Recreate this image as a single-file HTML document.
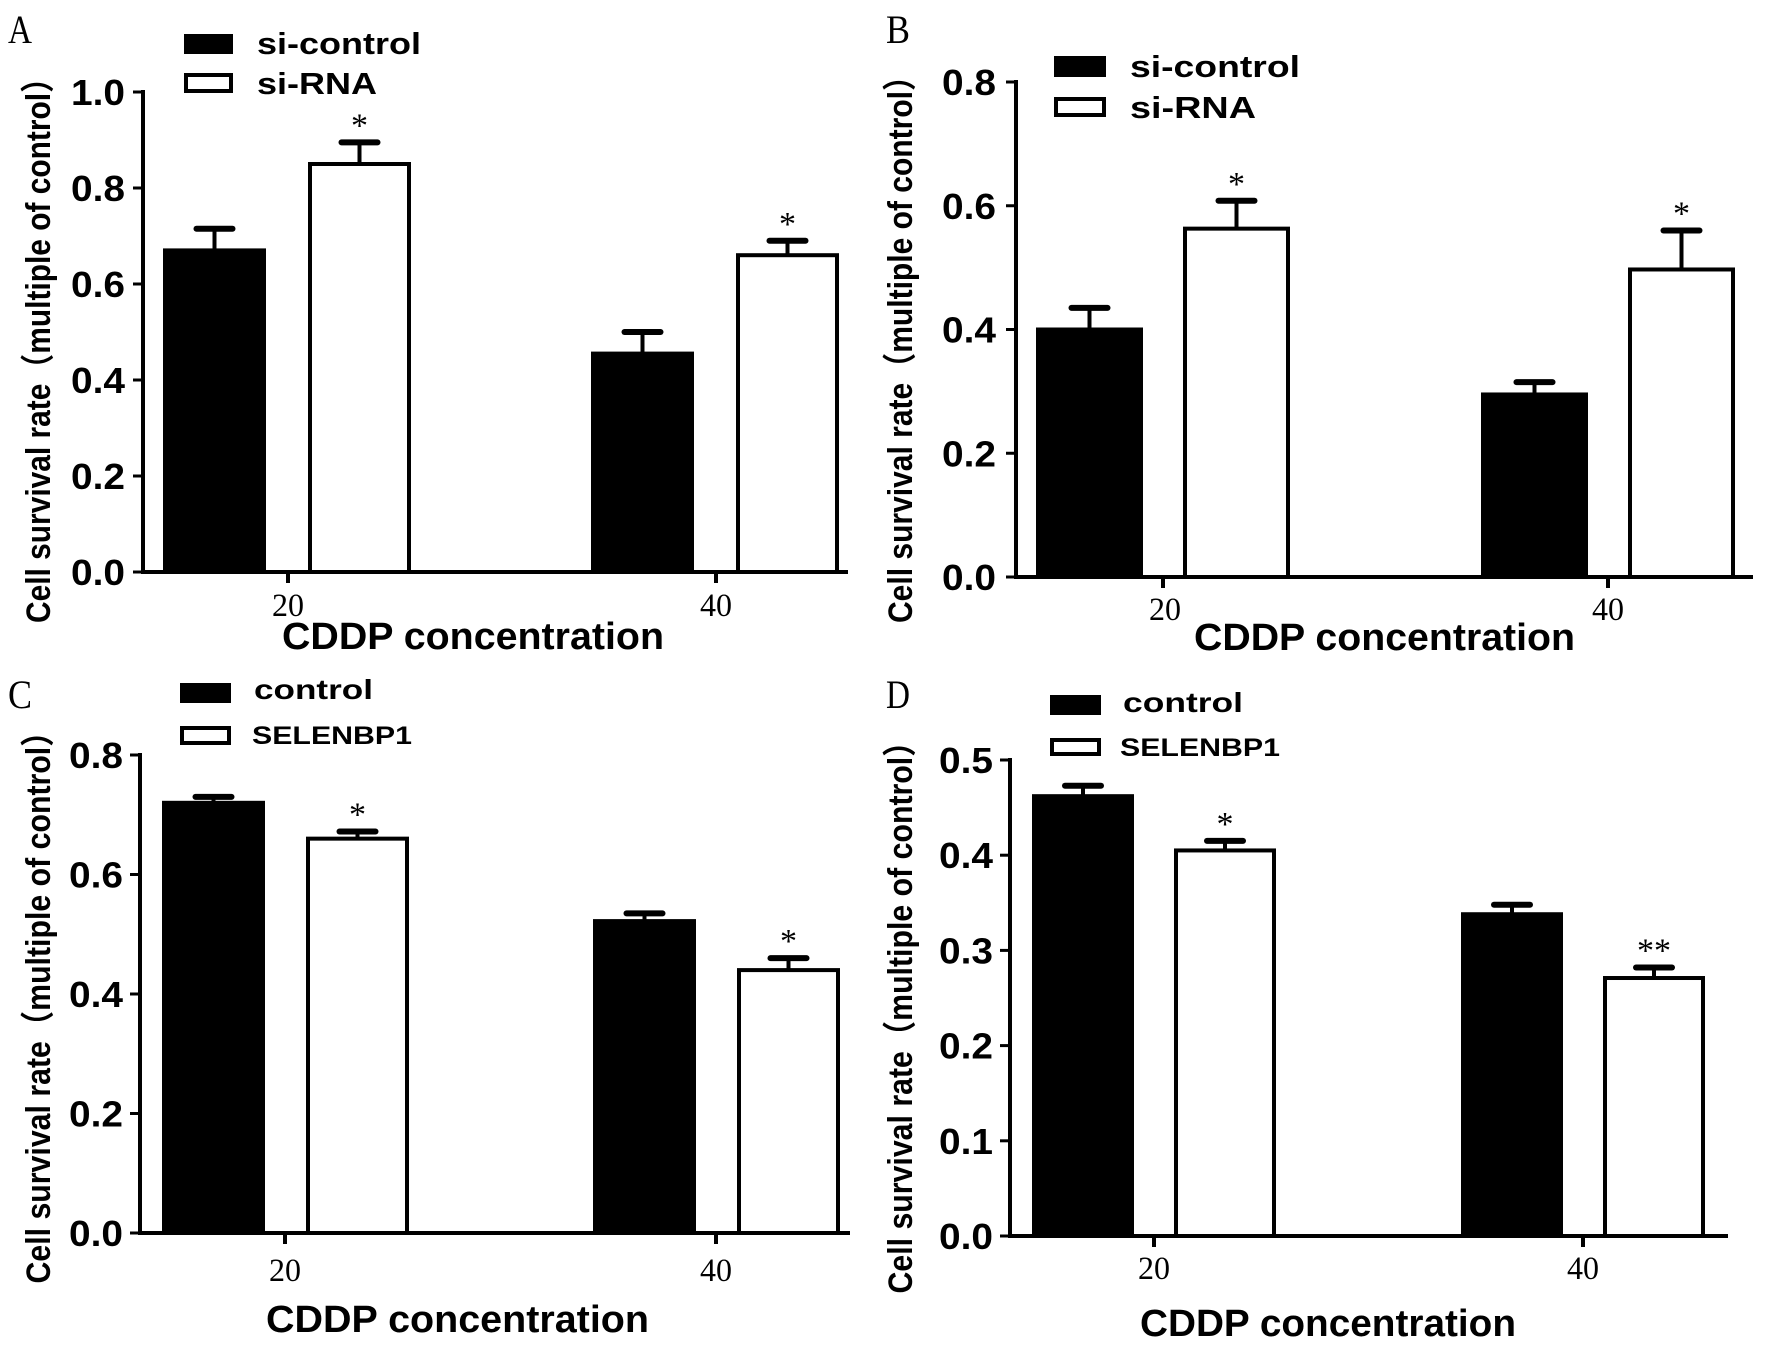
<!DOCTYPE html>
<html><head><meta charset="utf-8"><style>
html,body{margin:0;padding:0;background:#fff;}
svg{display:block;}
</style></head><body>
<svg id="fig" width="1772" height="1348" viewBox="0 0 1772 1348" xmlns="http://www.w3.org/2000/svg"></svg>
<script>
// ---- data ----
const categories = ["20", "40"];
const aBlack = [0.67, 0.455];
const aBlackErr = [0.045, 0.045];
const aWhite = [0.85, 0.66];
const aWhiteErr = [0.045, 0.03];
const aTicks = ["0.0", "0.2", "0.4", "0.6", "0.8", "1.0"];
const bBlack = [0.40, 0.295];
const bBlackErr = [0.035, 0.02];
const bWhite = [0.563, 0.497];
const bWhiteErr = [0.045, 0.063];
const bTicks = ["0.0", "0.2", "0.4", "0.6", "0.8"];
const cBlack = [0.72, 0.522];
const cBlackErr = [0.01, 0.013];
const cWhite = [0.66, 0.44];
const cWhiteErr = [0.012, 0.02];
const cTicks = ["0.0", "0.2", "0.4", "0.6", "0.8"];
const dBlack = [0.462, 0.338];
const dBlackErr = [0.011, 0.01];
const dWhite = [0.405, 0.271];
const dWhiteErr = [0.01, 0.011];
const dTicks = ["0.0", "0.1", "0.2", "0.3", "0.4", "0.5"];
const aStars = ["*", "*"], bStars = ["*", "*"], cStars = ["*", "*"], dStars = ["*", "**"];
const legendAB = ["si-control", "si-RNA"];
const legendCD = ["control", "SELENBP1"];

const NS = "http://www.w3.org/2000/svg";
const svg = document.getElementById("fig");
function mk(tag, attrs, parent, text) {
  const e = document.createElementNS(NS, tag);
  for (const k in attrs) e.setAttribute(k, attrs[k]);
  if (text !== undefined) e.textContent = text;
  (parent || svg).appendChild(e);
  return e;
}
const SANS = '"Liberation Sans", "Noto Sans CJK SC", sans-serif';
const SERIF = '"Liberation Serif", serif';

function panel(p) {
  const g = mk("g", {});
  
  
  const yMax = parseFloat(p.ticks[p.ticks.length - 1]);
  const yS = v => p.y0 - (v / yMax) * (p.y0 - p.yTop);
  const L = mk("text", {x: p.letter[0], y: p.letter[1], "font-family": SERIF, "font-size": 40, textLength: 24, lengthAdjust: "spacingAndGlyphs"}, g, p.id);
  
  
  for (let i = 0; i < categories.length; i++) {
    const c = p.cats[i];
    const series = [
      {v: p.black[i], e: p.blackErr[i], x: c - p.inner - p.bw, fill: "#000", name: "bar-black-" + categories[i]},
      {v: p.white[i], e: p.whiteErr[i], x: c + p.inner2, fill: "#fff", name: "bar-white-" + categories[i]}
    ];
    series.forEach((s, j) => {
      const top = yS(s.v);
      const cx = s.x + p.bw / 2;
      const eb = mk("line", {x1: cx, x2: cx, y1: top, y2: yS(s.v + s.e), stroke: "#000", "stroke-width": 4}, g);
      
      
      const cap = mk("line", {x1: cx - 18, x2: cx + 18, y1: yS(s.v + s.e), y2: yS(s.v + s.e), stroke: "#000", "stroke-width": 6, "stroke-linecap": "round"}, g);
      
      
      const r = mk("rect", {x: s.x, y: top, width: p.bw, height: p.y0 - top, fill: s.fill, stroke: "#000", "stroke-width": 4}, g);
      
      
      if (j === 1) {
        const st = mk("text", {x: cx, y: yS(s.v + s.e) - 6, "text-anchor": "middle", "font-family": SERIF, "font-size": 34}, g, p.stars[i]);
        
        
      }
    });
    const tk = mk("line", {x1: c, x2: c, y1: p.y0, y2: p.y0 + 11, stroke: "#000", "stroke-width": 4}, g);
    
    
    const tl = mk("text", {x: c + p.xlabOff[i], y: p.xlabY, "text-anchor": "middle", "font-family": SERIF, "font-size": 33, textLength: 32, lengthAdjust: "spacingAndGlyphs"}, g, categories[i]);
    
    
  }
  const ya = mk("line", {x1: p.ax, x2: p.ax, y1: p.yTop - 2, y2: p.y0 + 2, stroke: "#000", "stroke-width": 4}, g);
  
  
  const xa = mk("line", {x1: p.ax - 2, x2: p.xEnd, y1: p.y0, y2: p.y0, stroke: "#000", "stroke-width": 4}, g);
  
  
  p.ticks.forEach(t => {
    const y = yS(parseFloat(t));
    const tk = mk("line", {x1: p.ax - 10, x2: p.ax, y1: y, y2: y, stroke: "#000", "stroke-width": 3}, g);
    
    
    const tl = mk("text", {x: p.tickR, y: y + 13, "text-anchor": "end", "font-family": SANS, "font-weight": "bold", "font-size": 36, textLength: 54, lengthAdjust: "spacingAndGlyphs"}, g, t);
    
    
  });
  const yt = mk("text", {x: 0, y: 0, transform: `translate(${p.ytX},${p.ytY}) rotate(-90)`, "text-anchor": "middle", "font-family": SANS, "font-weight": "bold", "font-size": 34, textLength: p.ytLen, lengthAdjust: "spacingAndGlyphs"}, g, "Cell survival rate（multiple of control）");
  
  
  const xt = mk("text", {x: p.xt[0], y: p.xt[1], "font-family": SANS, "font-weight": "bold", "font-size": 38, textLength: p.xt[2], lengthAdjust: "spacingAndGlyphs"}, g, "CDDP concentration");
  
  
  p.leg.forEach((l, i) => {
    const lr = mk("rect", {x: l.rx + 2, y: l.ry + 2, width: l.rw - 4, height: l.rh - 4, fill: i === 0 ? "#000" : "#fff", stroke: "#000", "stroke-width": 4}, g);
    
    
    const lt = mk("text", {x: l.tx, y: l.ty, "font-family": SANS, "font-weight": "bold", "font-size": l.fs, textLength: l.tw, lengthAdjust: "spacingAndGlyphs"}, g, p.legend[i]);
    
    
  });
}

panel({id: "A", ticks: aTicks, black: aBlack, blackErr: aBlackErr, white: aWhite, whiteErr: aWhiteErr, stars: aStars, legend: legendAB,
  ax: 143, y0: 572, yTop: 92, xEnd: 848, cats: [288, 716], bw: 99, inner: 24, inner2: 22, xlabOff: [0, 0], xlabY: 616, tickR: 125,
  letter: [8, 43], ytX: 50, ytY: 343, ytLen: 560, xt: [282, 649, 382],
  leg: [{rx: 184, ry: 34, rw: 49, rh: 20, tx: 257, ty: 54, fs: 31, tw: 164}, {rx: 184, ry: 73, rw: 49, rh: 20, tx: 257, ty: 94, fs: 31, tw: 120}]});
panel({id: "B", ticks: bTicks, black: bBlack, blackErr: bBlackErr, white: bWhite, whiteErr: bWhiteErr, stars: bStars, legend: legendAB,
  ax: 1016, y0: 577, yTop: 82, xEnd: 1753, cats: [1163, 1608], bw: 103, inner: 22, inner2: 22, xlabOff: [2, 0], xlabY: 620, tickR: 996,
  letter: [886, 43], ytX: 912, ytY: 342, ytLen: 562, xt: [1194, 650, 381],
  leg: [{rx: 1054, ry: 56, rw: 52, rh: 21, tx: 1130, ty: 77, fs: 31, tw: 170}, {rx: 1054, ry: 97, rw: 52, rh: 20, tx: 1130, ty: 118, fs: 31, tw: 126}]});
panel({id: "C", ticks: cTicks, black: cBlack, blackErr: cBlackErr, white: cWhite, whiteErr: cWhiteErr, stars: cStars, legend: legendCD,
  ax: 140, y0: 1233, yTop: 755, xEnd: 850, cats: [285, 716], bw: 99, inner: 22, inner2: 23, xlabOff: [0, 0], xlabY: 1281, tickR: 123,
  letter: [8, 708], ytX: 50, ytY: 1000, ytLen: 567, xt: [266, 1332, 383],
  leg: [{rx: 180, ry: 683, rw: 51, rh: 20, tx: 254, ty: 699, fs: 28, tw: 119}, {rx: 180, ry: 726, rw: 51, rh: 19, tx: 252, ty: 744, fs: 25, tw: 160}]});
panel({id: "D", ticks: dTicks, black: dBlack, blackErr: dBlackErr, white: dWhite, whiteErr: dWhiteErr, stars: dStars, legend: legendCD,
  ax: 1010, y0: 1236, yTop: 760, xEnd: 1728, cats: [1154, 1583], bw: 98, inner: 22, inner2: 22, xlabOff: [0, 0], xlabY: 1279, tickR: 993,
  letter: [886, 708], ytX: 912, ytY: 1010, ytLen: 567, xt: [1140, 1336, 376],
  leg: [{rx: 1050, ry: 695, rw: 51, rh: 20, tx: 1123, ty: 712, fs: 28, tw: 120}, {rx: 1050, ry: 738, rw: 51, rh: 18, tx: 1120, ty: 756, fs: 25, tw: 160}]});
</script>
</body></html>
